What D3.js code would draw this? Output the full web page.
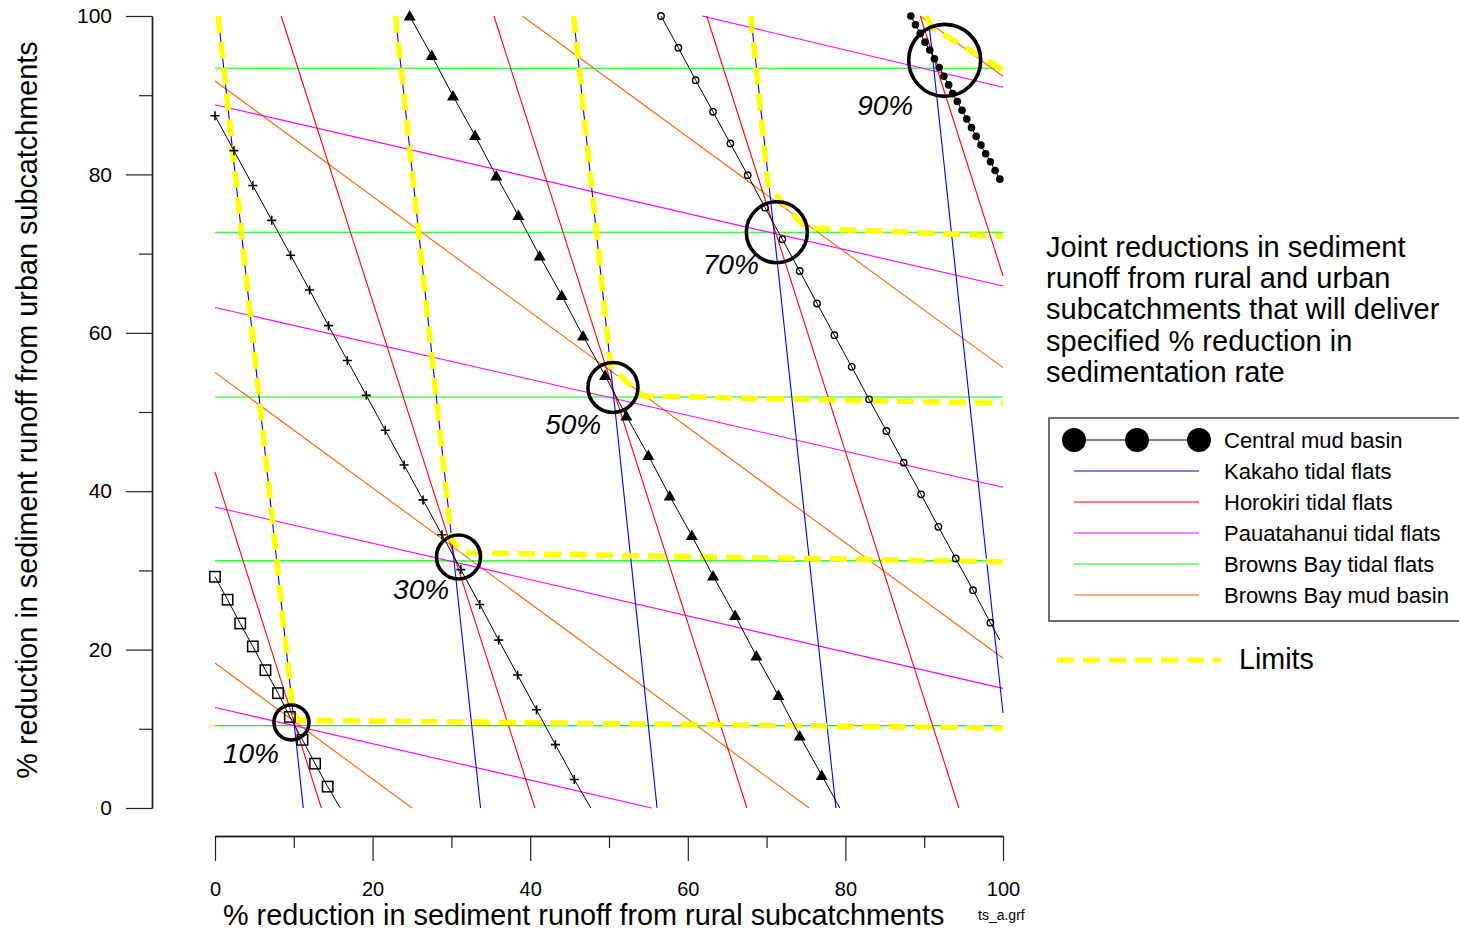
<!DOCTYPE html>
<html><head><meta charset="utf-8">
<script src="https://cdn.jsdelivr.net/npm/d3@7"></script>
<style>
html,body{margin:0;padding:0;background:#fff;}
svg{display:block;font-family:"Liberation Sans",Arial,Helvetica,sans-serif;}
</style></head><body>
<svg id="chart" width="1459" height="932"></svg>
<script>
// ================= DATA =================
const levels = ["10%", "30%", "50%", "70%", "90%"];
const majorTicks = [0, 20, 40, 60, 80, 100];
const minorTicks = [10, 30, 50, 70, 90];

// Central mud basin: marked points [rural %, urban %] per level
const central10 = [[0,29.2],[1.6,26.3],[3.2,23.3],[4.8,20.4],[6.4,17.4],[8.0,14.5],[9.5,11.5],[11.1,8.6],[12.7,5.6],[14.3,2.7]];
const central30 = [[0,87.4],[2.4,83.0],[4.8,78.6],[7.2,74.2],[9.6,69.8],[12.0,65.4],[14.4,60.9],[16.8,56.5],[19.2,52.1],[21.6,47.7],[24.0,43.3],[26.4,38.9],[28.8,34.5],[31.2,30.1],[33.6,25.7],[36.0,21.2],[38.4,16.8],[40.8,12.4],[43.2,8.0],[45.6,3.6]];
const central50 = [[24.7,100],[27.5,95.0],[30.2,89.9],[33.0,84.9],[35.7,79.8],[38.5,74.8],[41.2,69.7],[44.0,64.7],[46.7,59.6],[49.5,54.6],[52.2,49.5],[55.0,44.5],[57.7,39.4],[60.5,34.4],[63.2,29.3],[66.0,24.3],[68.7,19.2],[71.5,14.2],[74.2,9.1],[77.0,4.1]];
const central70 = [[56.6,100],[58.8,96.0],[61.0,91.9],[63.2,87.9],[65.4,83.9],[67.6,79.9],[69.8,75.8],[72.0,71.8],[74.2,67.8],[76.4,63.7],[78.6,59.7],[80.8,55.7],[83.0,51.6],[85.2,47.6],[87.4,43.6],[89.6,39.6],[91.8,35.5],[94.0,31.5],[96.2,27.5],[98.4,23.4]];
const central90 = [[88.3,100],[88.9,98.9],[89.5,97.8],[90.1,96.7],[90.7,95.7],[91.3,94.6],[91.9,93.5],[92.5,92.4],[93.1,91.3],[93.6,90.2],[94.2,89.2],[94.8,88.1],[95.4,87.0],[96.0,85.9],[96.6,84.8],[97.2,83.7],[97.8,82.6],[98.4,81.6],[99.0,80.5],[99.6,79.4]];
// unmarked end points of the central mud basin lines
const centralEnds = [[15.9,0],[47.7,0],[79.3,0],[99.6,21.2],null];

// Other constraint lines, one segment per level [[x1,y1],[x2,y2]]
const kakaho = [[[0.4,100],[11.2,0]], [[22.9,100],[33.7,0]], [[45.5,100],[56.1,0]], [[68.0,100],[78.8,0]], [[90.5,100],[100,12.0]]];
const horokiri = [[[0,42.4],[13.5,0]], [[8.4,100],[40.6,0]], [[35.4,100],[67.5,0]], [[62.4,100],[94.4,0]], [[89.5,100],[100,67.2]]];
const pauatahanui = [[[0,12.7],[55.4,0]], [[0,38.0],[100,15.1]], [[0,63.2],[100,40.5]], [[0,88.8],[100,65.9]], [[61.8,100],[100,91.0]]];
const brownsBayFlats = [[[0,10.4],[100,10.4]], [[0,31.2],[100,31.2]], [[0,51.9],[100,51.9]], [[0,72.7],[100,72.7]], [[0,93.4],[100,93.4]]];
const brownsBayMud = [[[0,18.3],[25.0,0]], [[0,55.0],[75.4,0]], [[0,91.8],[100,18.9]], [[39.0,100],[100,55.6]], [[89.5,100],[100,92.4]]];

// Limits (envelope) per level
const limits = [
  [[0.4,100],[9.9,12.1],[10.6,11.1],[100,10.1]],
  [[22.9,100],[30.0,33.9],[31.2,32.6],[32.5,32.2],[100,31.1]],
  [[45.5,100],[50.2,55.8],[53.7,52.4],[54.6,52.0],[100,51.1]],
  [[68.0,100],[70.2,78.6],[74.2,74.0],[75.6,73.2],[100,72.2]],
  [[90.3,100],[90.9,98.6],[100,93.2]]
];

// Solution points (circled) and label anchors
const solutionPoints = [[9.7,10.8],[30.9,31.7],[50.5,53.1],[71.3,72.7],[92.6,94.4]];
const labelAnchors = [[1.0,5.7],[22.6,26.4],[41.9,47.2],[61.9,67.4],[81.5,87.5]];

const seriesNames = ["Central mud basin","Kakaho tidal flats","Horokiri tidal flats","Pauatahanui tidal flats","Browns Bay tidal flats","Browns Bay mud basin"];
const noteLines = ["Joint reductions in sediment","runoff from rural and urban","subcatchments that will deliver","specified % reduction in","sedimentation rate"];

// ================= STYLE =================
const colors = {kakaho:"#0000ff", horokiri:"#ff0000", pauatahanui:"#ff00ff", flats:"#00ff00", mud:"#ff6600", limit:"#ffff00"};
const legendColors = [null, colors.kakaho, colors.horokiri, colors.pauatahanui, colors.flats, colors.mud];
const circleRadii = [17.5, 22, 25, 30.5, 36];

// ================= CHART =================
const svg = d3.select("#chart");
const x = d3.scaleLinear().domain([0,100]).range([215,1003]);
const y = d3.scaleLinear().domain([0,100]).range([808,16]);
const line = d3.line().x(d => x(d[0])).y(d => y(d[1]));

// axes
const axisColor = "#222";
const gx = svg.append("g").attr("transform","translate(0,836)");
gx.call(d3.axisBottom(x).tickValues(majorTicks).tickSize(25).tickSizeOuter(0).tickFormat(d3.format("d")));
gx.append("g").call(d3.axisBottom(x).tickValues(minorTicks).tickSize(12).tickSizeOuter(0).tickFormat(""));
gx.selectAll("path.domain").attr("stroke",axisColor).attr("stroke-width",1.4);
gx.selectAll("line").attr("stroke",axisColor).attr("stroke-width",1.2);
gx.selectAll("text").attr("y",60).attr("dy",null).attr("font-size",20).attr("fill","#000")
  .attr("font-family",'"Liberation Sans",Arial,sans-serif');

const gy = svg.append("g").attr("transform","translate(152,0)");
gy.call(d3.axisLeft(y).tickValues(majorTicks).tickSize(26).tickSizeOuter(0).tickFormat(d3.format("d")));
gy.append("g").call(d3.axisLeft(y).tickValues(minorTicks).tickSize(13).tickSizeOuter(0).tickFormat(""));
gy.selectAll("path.domain").attr("stroke",axisColor).attr("stroke-width",1.4);
gy.selectAll("line").attr("stroke",axisColor).attr("stroke-width",1.2);
gy.selectAll("text").attr("x",-40).attr("font-size",21).attr("fill","#000")
  .attr("font-family",'"Liberation Sans",Arial,sans-serif');

// axis titles
svg.append("text").attr("x",223).attr("y",925).attr("font-size",28.8).attr("fill","#000")
  .text("% reduction in sediment runoff from rural subcatchments");
svg.append("text").attr("transform","translate(37,410) rotate(-90)").attr("text-anchor","middle")
  .attr("font-size",28.8).attr("fill","#000")
  .text("% reduction in sediment runoff from urban subcatchments");
svg.append("text").attr("x",978).attr("y",920).attr("font-size",14).attr("fill","#000").text("ts_a.grf");

// constraint lines
const plot = svg.append("g");
function drawSegments(data, color) {
  plot.append("g").selectAll("path").data(data).join("path")
    .attr("d", line).attr("fill","none").attr("stroke",color).attr("stroke-width",1.1);
}
drawSegments(brownsBayFlats, colors.flats);
drawSegments(brownsBayMud, colors.mud);
drawSegments(pauatahanui, colors.pauatahanui);
drawSegments(horokiri, colors.horokiri);
drawSegments(kakaho, colors.kakaho);

// limits
plot.append("g").selectAll("path").data(limits).join("path")
  .attr("d", line).attr("fill","none").attr("stroke",colors.limit)
  .attr("stroke-width",5.5).attr("stroke-dasharray","17,9").attr("stroke-linejoin","round");

// central mud basin lines + markers
const centralSets = [central10, central30, central50, central70, central90];
const gc = plot.append("g");
centralSets.forEach((pts, i) => {
  const full = centralEnds[i] ? pts.concat([centralEnds[i]]) : pts;
  gc.append("path").attr("d", line(full)).attr("fill","none").attr("stroke","#000").attr("stroke-width",1);
  const g = gc.append("g");
  pts.forEach(p => {
    const px = x(p[0]), py = y(p[1]);
    if (i === 0) {
      g.append("rect").attr("x",px-5.2).attr("y",py-5.2).attr("width",10.4).attr("height",10.4)
        .attr("fill","none").attr("stroke","#000").attr("stroke-width",1.5);
    } else if (i === 1) {
      g.append("path").attr("d",`M${px-4.5},${py}H${px+4.5}M${px},${py-4.5}V${py+4.5}`)
        .attr("stroke","#000").attr("stroke-width",1.6);
    } else if (i === 2) {
      g.append("path").attr("d",`M${px},${py-6}L${px+6},${py+4.5}L${px-6},${py+4.5}Z`).attr("fill","#000");
    } else if (i === 3) {
      g.append("circle").attr("cx",px).attr("cy",py).attr("r",3.2).attr("fill","none")
        .attr("stroke","#000").attr("stroke-width",1.4);
    } else {
      g.append("circle").attr("cx",px).attr("cy",py).attr("r",3.8).attr("fill","#000");
    }
  });
});

// solution circles and labels
plot.append("g").selectAll("circle").data(solutionPoints).join("circle")
  .attr("cx", d => x(d[0])).attr("cy", d => y(d[1])).attr("r", (d,i) => circleRadii[i])
  .attr("fill","none").attr("stroke","#000").attr("stroke-width",3.6);
plot.append("g").selectAll("text").data(labelAnchors).join("text")
  .attr("x", d => x(d[0])).attr("y", d => y(d[1])).attr("font-size",28).attr("font-style","italic")
  .attr("fill","#000").text((d,i) => levels[i]);

// note text
svg.append("g").selectAll("text").data(noteLines).join("text")
  .attr("x",1046).attr("y",(d,i) => 257 + i*31.2).attr("font-size",29).attr("fill","#000").text(d => d);

// legend
const lg = svg.append("g");
lg.append("rect").attr("x",1049).attr("y",418).attr("width",430).attr("height",203)
  .attr("fill","none").attr("stroke","#333").attr("stroke-width",1.4);
seriesNames.forEach((name, i) => {
  const ly = 440 + i*31;
  if (i === 0) {
    lg.append("line").attr("x1",1074).attr("x2",1199).attr("y1",ly).attr("y2",ly).attr("stroke","#000").attr("stroke-width",1.2);
    [1074,1137,1199].forEach(cx => lg.append("circle").attr("cx",cx).attr("cy",ly).attr("r",12).attr("fill","#000"));
  } else {
    lg.append("line").attr("x1",1074).attr("x2",1199).attr("y1",ly).attr("y2",ly).attr("stroke",legendColors[i]).attr("stroke-width",1.1);
  }
  lg.append("text").attr("x",1224).attr("y",ly+8).attr("font-size",22).attr("fill","#000").text(name);
});
lg.append("line").attr("x1",1057).attr("x2",1221).attr("y1",660).attr("y2",660)
  .attr("stroke",colors.limit).attr("stroke-width",5).attr("stroke-dasharray","17,9");
lg.append("text").attr("x",1239).attr("y",669).attr("font-size",28.7).attr("fill","#000").text("Limits");
</script>
</body></html>
